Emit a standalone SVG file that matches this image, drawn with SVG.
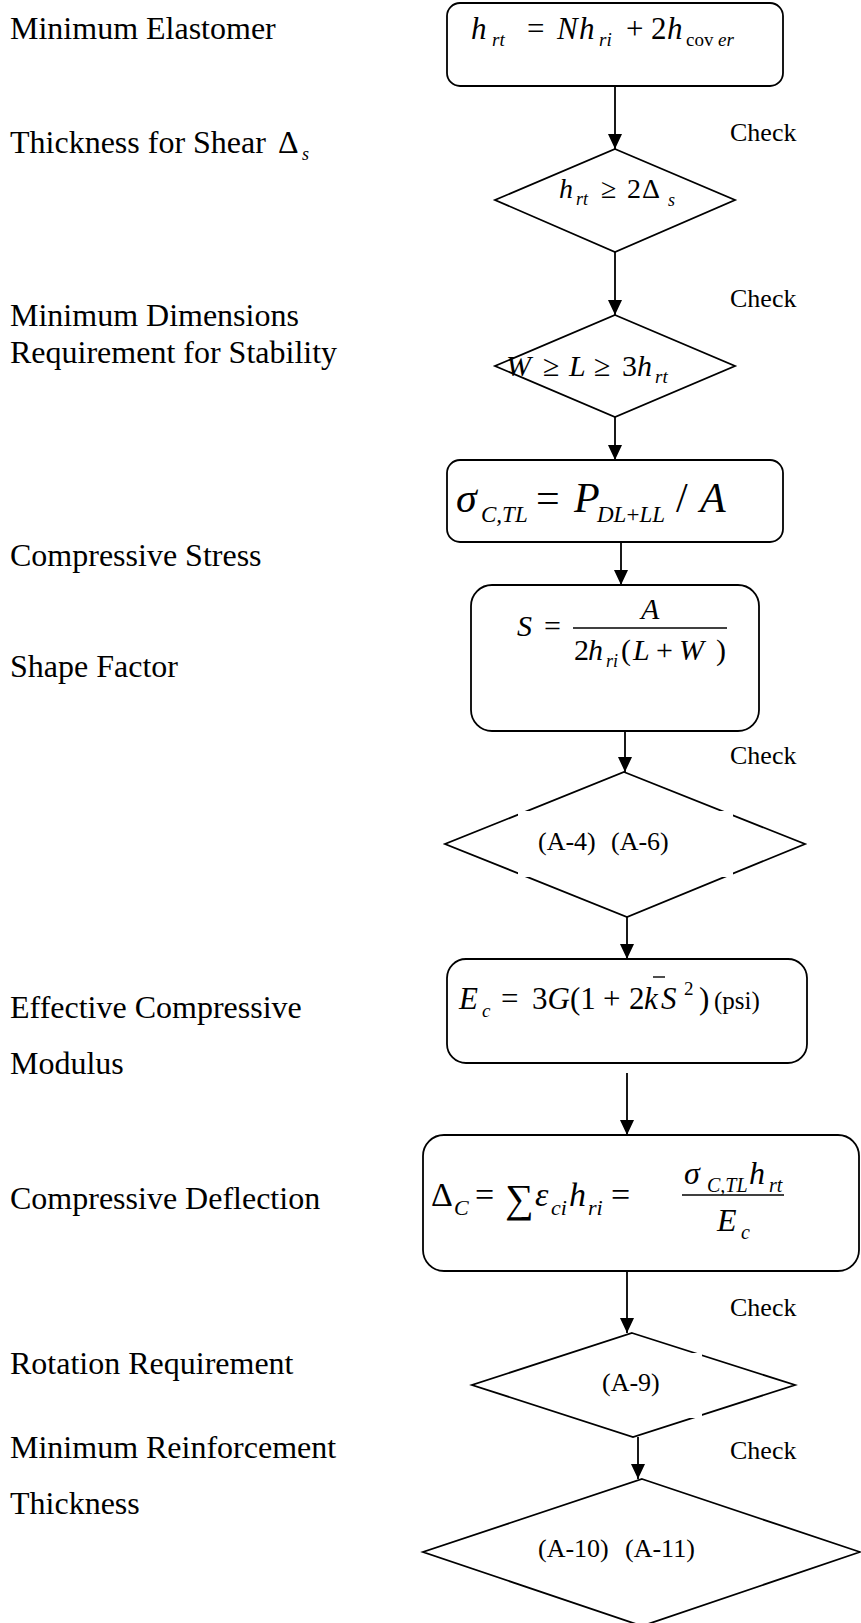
<svg xmlns="http://www.w3.org/2000/svg" width="861" height="1623" viewBox="0 0 861 1623">
<style>
text{font-family:"Liberation Serif","Times New Roman","DejaVu Serif",serif;fill:#000}
.lab{font-size:32px}
.chk{font-size:26px}
.i{font-style:italic}
.shape{fill:#fff;stroke:#000;stroke-width:1.8}
.mask{fill:none;stroke:#fff;stroke-width:4}
.bar{stroke:#000;stroke-width:1.4}
.conn line{stroke:#000;stroke-width:1.8}
</style>
<defs>
<marker id="ah" markerUnits="userSpaceOnUse" markerWidth="15" markerHeight="14" refX="15" refY="7" orient="auto">
<path d="M0,0 L15,7 L0,14 z" fill="#000"/>
</marker>
</defs>
<rect width="861" height="1623" fill="#fff"/>

<g id="labels">
<text class="lab" x="10" y="39">Minimum Elastomer</text>
<text class="lab" x="10" y="153">Thickness for Shear <tspan x="278">Δ</tspan><tspan class="i" x="302" y="160" font-size="18">s</tspan></text>
<text class="lab" x="10" y="326">Minimum Dimensions</text>
<text class="lab" x="10" y="363">Requirement for Stability</text>
<text class="lab" x="10" y="566">Compressive Stress</text>
<text class="lab" x="10" y="677">Shape Factor</text>
<text class="lab" x="10" y="1018">Effective Compressive</text>
<text class="lab" x="10" y="1074">Modulus</text>
<text class="lab" x="10" y="1209">Compressive Deflection</text>
<text class="lab" x="10" y="1374">Rotation Requirement</text>
<text class="lab" x="10" y="1458">Minimum Reinforcement</text>
<text class="lab" x="10" y="1514">Thickness</text>
</g>

<g id="checks">
<text class="chk" x="730" y="141">Check</text>
<text class="chk" x="730" y="307">Check</text>
<text class="chk" x="730" y="764">Check</text>
<text class="chk" x="730" y="1316">Check</text>
<text class="chk" x="730" y="1459">Check</text>
</g>

<g id="connectors" class="conn">
<line x1="615" y1="86" x2="615" y2="149" marker-end="url(#ah)"/>
<line x1="615" y1="252" x2="615" y2="315" marker-end="url(#ah)"/>
<line x1="615" y1="417" x2="615" y2="460" marker-end="url(#ah)"/>
<line x1="621" y1="542" x2="621" y2="585" marker-end="url(#ah)"/>
<line x1="625" y1="731" x2="625" y2="772" marker-end="url(#ah)"/>
<line x1="627" y1="917" x2="627" y2="959" marker-end="url(#ah)"/>
<line x1="627" y1="1073" x2="627" y2="1135" marker-end="url(#ah)"/>
<line x1="627" y1="1271" x2="627" y2="1333" marker-end="url(#ah)"/>
<line x1="638" y1="1437" x2="638" y2="1479" marker-end="url(#ah)"/>
</g>

<g id="n1">
<rect class="shape" x="447" y="3" width="336" height="83" rx="13"/>
<text font-size="31" y="39"><tspan class="i" x="471">h</tspan><tspan class="i" x="492" y="46" font-size="19">rt</tspan><tspan x="527" y="39">=</tspan><tspan class="i" x="557">N</tspan><tspan class="i" x="579">h</tspan><tspan class="i" x="599" y="46" font-size="19">ri</tspan><tspan x="626" y="39">+</tspan><tspan x="651">2</tspan><tspan class="i" x="667">h</tspan><tspan x="686" y="46" font-size="19">cov</tspan><tspan class="i" x="718" font-size="19">er</tspan></text>
</g>

<g id="n2">
<polygon class="shape" points="615,149 735,200 615,252 495,200"/>
<text font-size="28" y="198"><tspan class="i" x="559">h</tspan><tspan class="i" x="576" y="205" font-size="18">rt</tspan><tspan x="601" y="198">≥</tspan><tspan x="627">2</tspan><tspan x="642">Δ</tspan><tspan class="i" x="668" y="206" font-size="18">s</tspan></text>
</g>

<g id="n3">
<polygon class="shape" points="615,315 735,366 615,417 495,366"/>
<text font-size="30" y="376"><tspan class="i" x="506">W</tspan><tspan x="543">≥</tspan><tspan class="i" x="569">L</tspan><tspan x="594">≥</tspan><tspan x="622">3</tspan><tspan class="i" x="637">h</tspan><tspan class="i" x="655" y="383" font-size="19">rt</tspan></text>
</g>

<g id="n4">
<rect class="shape" x="447" y="460" width="336" height="82" rx="13"/>
<text font-size="42" y="512"><tspan class="i" x="456">σ</tspan><tspan class="i" x="481" y="522" font-size="23">C,TL</tspan><tspan x="536" y="512">=</tspan><tspan class="i" x="574">P</tspan><tspan class="i" x="597" y="522" font-size="23">DL</tspan><tspan y="522" font-size="23">+</tspan><tspan class="i" y="522" font-size="23">LL</tspan><tspan x="676" y="512">/</tspan><tspan class="i" x="700">A</tspan></text>
</g>

<g id="n5">
<rect class="shape" x="471" y="585" width="288" height="146" rx="21"/>
<text font-size="30"><tspan class="i" x="517" y="636">S</tspan><tspan x="544" y="636">=</tspan><tspan class="i" x="641" y="619">A</tspan><tspan x="574" y="660">2</tspan><tspan class="i" x="588" y="660">h</tspan><tspan class="i" x="606" y="667" font-size="18">ri</tspan><tspan x="621" y="660">(</tspan><tspan class="i" x="633" y="660">L</tspan><tspan x="656" y="660">+</tspan><tspan class="i" x="679" y="660">W</tspan><tspan x="716" y="660">)</tspan></text>
<line class="bar" x1="573" y1="628" x2="727" y2="628"/>
</g>

<g id="n6">
<polygon class="shape" points="624,772 805,844 627,917 445,844"/>
<rect class="mask" x="520" y="813" width="211" height="62"/>
<text font-size="26" y="850"><tspan x="538">(A-4)</tspan><tspan x="611">(A-6)</tspan></text>
</g>

<g id="n7">
<rect class="shape" x="447" y="959" width="360" height="104" rx="19"/>
<text font-size="31" y="1009"><tspan class="i" x="459">E</tspan><tspan class="i" x="482" y="1017" font-size="19">c</tspan><tspan x="501" y="1009">=</tspan><tspan x="532">3</tspan><tspan class="i">G</tspan><tspan>(1</tspan><tspan x="603">+</tspan><tspan x="629">2</tspan><tspan class="i" x="644">k</tspan><tspan class="i" x="661">S</tspan><tspan x="684" y="995" font-size="19">2</tspan><tspan x="699" y="1009">)</tspan><tspan x="714" font-size="25">(psi)</tspan></text>
<line class="bar" x1="653" y1="977" x2="665" y2="977"/>
</g>

<g id="n8">
<rect class="shape" x="423" y="1135" width="436" height="136" rx="21"/>
<text font-size="34" y="1206"><tspan x="431">Δ</tspan><tspan class="i" x="454" y="1215" font-size="22">C</tspan><tspan x="475" y="1206">=</tspan><tspan x="505" y="1212" font-size="40">∑</tspan><tspan class="i" x="535" y="1206">ε</tspan><tspan class="i" x="551" y="1215" font-size="22">ci</tspan><tspan class="i" x="569" y="1206">h</tspan><tspan class="i" x="588" y="1215" font-size="22">ri</tspan><tspan x="611" y="1206">=</tspan></text>
<text font-size="32"><tspan class="i" x="684" y="1184">σ</tspan><tspan class="i" x="707" y="1192" font-size="20">C,TL</tspan><tspan class="i" x="749" y="1184">h</tspan><tspan class="i" x="769" y="1192" font-size="20">rt</tspan><tspan class="i" x="717" y="1231">E</tspan><tspan class="i" x="741" y="1239" font-size="20">c</tspan></text>
<line class="bar" x1="682" y1="1195" x2="784" y2="1195"/>
</g>

<g id="n9">
<polygon class="shape" points="632,1333 795,1385 633,1437 472,1385"/>
<rect class="mask" x="580" y="1355" width="120" height="61"/>
<text font-size="26" x="602" y="1391">(A-9)</text>
</g>

<g id="n10">
<polygon class="shape" points="642,1479 860,1552 642,1626 423,1552"/>
<text font-size="26" y="1557"><tspan x="538">(A-10)</tspan><tspan x="625">(A-11)</tspan></text>
</g>
</svg>
